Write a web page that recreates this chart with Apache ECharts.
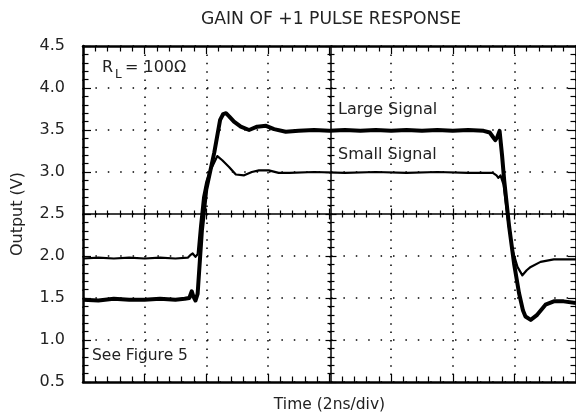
<!DOCTYPE html>
<html>
<head>
<meta charset="utf-8">
<script src="https://cdn.jsdelivr.net/npm/echarts@6/dist/echarts.min.js"></script>
<style>
  html, body { margin: 0; padding: 0; background: #fff; }
  #chart { width: 576px; height: 420px; }
</style>
</head>
<body>
<div id="chart"></div>
<script>
// 时间轴 (ns), 每格 2ns
const largeTime = [0, 0.5, 1.0, 1.5, 2.0, 2.5, 3.0, 3.3, 3.45, 3.53, 3.58, 3.65, 3.72, 3.86, 4.0, 4.26, 4.45, 4.55, 4.64, 4.75, 4.9, 5.12, 5.39, 5.65, 5.94, 6.2, 6.58, 7.0, 7.5, 8.0, 8.5, 9.0, 9.5, 10.0, 10.5, 11.0, 11.5, 12.0, 12.5, 13.0, 13.2, 13.3, 13.38, 13.45, 13.52, 13.6, 13.67, 13.83, 13.99, 14.15, 14.28, 14.36, 14.53, 14.74, 15.01, 15.28, 15.6, 16.0]
const largeOut = [1.48, 1.47, 1.49, 1.48, 1.48, 1.49, 1.48, 1.49, 1.50, 1.58, 1.52, 1.47, 1.55, 2.31, 2.79, 3.23, 3.62, 3.69, 3.70, 3.66, 3.60, 3.54, 3.50, 3.54, 3.55, 3.51, 3.48, 3.49, 3.50, 3.49, 3.50, 3.49, 3.50, 3.49, 3.50, 3.49, 3.50, 3.49, 3.50, 3.49, 3.47, 3.42, 3.38, 3.42, 3.49, 3.20, 2.90, 2.35, 1.91, 1.56, 1.35, 1.28, 1.24, 1.30, 1.42, 1.46, 1.46, 1.44]

const smallTime = [0, 0.5, 1.0, 1.5, 2.0, 2.5, 3.0, 3.4, 3.48, 3.56, 3.65, 3.72, 3.8, 3.9, 4.0, 4.1, 4.19, 4.36, 4.52, 4.74, 4.96, 5.23, 5.48, 5.71, 6.03, 6.35, 6.7, 7.5, 8.5, 9.5, 10.5, 11.5, 12.5, 13.3, 13.42, 13.48, 13.55, 13.65, 13.8, 13.94, 14.1, 14.26, 14.4, 14.53, 14.85, 15.28, 15.7, 16.0]
const smallOut = [1.97, 1.98, 1.97, 1.98, 1.97, 1.98, 1.97, 1.98, 2.01, 2.03, 1.99, 2.02, 2.35, 2.70, 2.88, 3.00, 3.06, 3.19, 3.14, 3.06, 2.97, 2.96, 3.00, 3.02, 3.02, 2.99, 2.99, 3.00, 2.99, 3.00, 2.99, 3.00, 2.99, 2.99, 2.96, 2.93, 2.96, 2.85, 2.40, 2.07, 1.87, 1.77, 1.83, 1.87, 1.93, 1.96, 1.96, 1.96]

// 坐标轴范围
const timeMin = 0
const timeMax = 16
const timeStep = 2
const outMin = 0.5
const outMax = 4.5
const outStep = 0.5

const FONT = '"DejaVu Sans", sans-serif'
const TEXT = '#222'

const chart = echarts.init(document.getElementById('chart'))

function pairs(xs, ys) {
  return xs.map((x, i) => [x, ys[i]])
}

// 外框/十字中线共用的轴配置
function xAxisBase(extra) {
  return Object.assign({
    type: 'value',
    min: timeMin,
    max: timeMax,
    interval: timeStep,
    axisLabel: { show: false },
    splitLine: { show: false },
    axisLine: { onZero: false, lineStyle: { color: '#000', width: 2.5 } },
    axisTick: { inside: true, length: 8, lineStyle: { color: '#000', width: 1.2 } },
    minorTick: { show: true, splitNumber: 5, length: 5.5, lineStyle: { color: '#000', width: 1.2 } }
  }, extra)
}

function yAxisBase(extra) {
  return Object.assign({
    type: 'value',
    min: outMin,
    max: outMax,
    interval: outStep,
    axisLabel: { show: false },
    splitLine: { show: false },
    axisLine: { onZero: false, lineStyle: { color: '#000', width: 2.5 } },
    axisTick: { inside: true, length: 8, lineStyle: { color: '#000', width: 1.2 } },
    minorTick: { show: true, splitNumber: 5, length: 5.5, lineStyle: { color: '#000', width: 1.2 } }
  }, extra)
}

const centerTick = { length: 5.5, lineStyle: { color: '#000', width: 1.2 } }
const centerMinor = { show: true, splitNumber: 5, length: 3.5, lineStyle: { color: '#000', width: 1.2 } }

const option = {
  animation: false,
  backgroundColor: '#fff',
  textStyle: { fontFamily: FONT },
  grid: { left: 83, top: 46, right: -3, bottom: 38 },
  xAxis: [
    xAxisBase({
      position: 'bottom',
      name: 'Time (2ns/div)',
      nameLocation: 'middle',
      nameGap: 15,
      nameTextStyle: { fontFamily: FONT, fontSize: 15.5, color: TEXT, verticalAlign: 'top' },
      splitLine: { show: true, lineStyle: { color: '#000', width: 1.5, type: [1.5, 6.9] } }
    }),
    xAxisBase({ position: 'top' }),
    // 中间水平实线 (2.5V)，刻度朝上
    xAxisBase({
      position: 'bottom', offset: -168,
      axisLine: { onZero: false, lineStyle: { color: '#000', width: 1.5 } },
      axisTick: Object.assign({ inside: true }, centerTick),
      minorTick: centerMinor
    }),
    // 刻度朝下
    xAxisBase({
      position: 'bottom', offset: -168,
      axisLine: { show: false, onZero: false },
      axisTick: Object.assign({ inside: false }, centerTick),
      minorTick: centerMinor
    })
  ],
  yAxis: [
    yAxisBase({
      position: 'left',
      name: 'Output (V)',
      nameLocation: 'middle',
      nameGap: 57,
      nameTextStyle: { fontFamily: FONT, fontSize: 16, color: TEXT },
      axisLabel: {
        show: true, margin: 18, fontFamily: FONT, fontSize: 16, color: TEXT,
        padding: [6, 0, 0, 0],
        formatter: v => v.toFixed(1)
      },
      splitLine: { show: true, lineStyle: { color: '#000', width: 1.5, type: [1.5, 10.9] } }
    }),
    yAxisBase({ position: 'right' }),
    // 中间竖直实线，刻度朝右
    yAxisBase({
      position: 'left', offset: -248,
      axisLine: { onZero: false, lineStyle: { color: '#000', width: 1.5 } },
      axisTick: Object.assign({ inside: true }, centerTick),
      minorTick: centerMinor
    }),
    // 刻度朝左
    yAxisBase({
      position: 'left', offset: -248,
      axisLine: { show: false, onZero: false },
      axisTick: Object.assign({ inside: false }, centerTick),
      minorTick: centerMinor
    })
  ],
  graphic: [
    { type: 'text', x: 331, y: 20, style: { text: 'GAIN OF +1 PULSE RESPONSE', font: '17.2px ' + FONT, fill: TEXT, align: 'center', verticalAlign: 'middle' } },
    { type: 'text', x: 102, y: 68, style: { text: 'R', font: '16px ' + FONT, fill: TEXT, verticalAlign: 'middle' } },
    { type: 'text', x: 115, y: 75, style: { text: 'L', font: '12px ' + FONT, fill: TEXT, verticalAlign: 'middle' } },
    { type: 'text', x: 125, y: 68, style: { text: '= 100Ω', font: '16px ' + FONT, fill: TEXT, verticalAlign: 'middle' } },
    { type: 'text', x: 338, y: 110, style: { text: 'Large Signal', font: '16px ' + FONT, fill: TEXT, verticalAlign: 'middle' } },
    { type: 'text', x: 338, y: 155, style: { text: 'Small Signal', font: '16px ' + FONT, fill: TEXT, verticalAlign: 'middle' } },
    { type: 'text', x: 92, y: 356, style: { text: 'See Figure 5', font: '15.5px ' + FONT, fill: TEXT, verticalAlign: 'middle' } }
  ],
  series: [
    {
      name: 'Large Signal',
      type: 'line',
      data: pairs(largeTime, largeOut),
      showSymbol: false,
      lineStyle: { color: '#000', width: 4, join: 'round' },
      z: 5
    },
    {
      name: 'Small Signal',
      type: 'line',
      data: pairs(smallTime, smallOut),
      showSymbol: false,
      lineStyle: { color: '#000', width: 2.2, join: 'round' },
      z: 4
    }
  ]
}

chart.setOption(option)
</script>
</body>
</html>
